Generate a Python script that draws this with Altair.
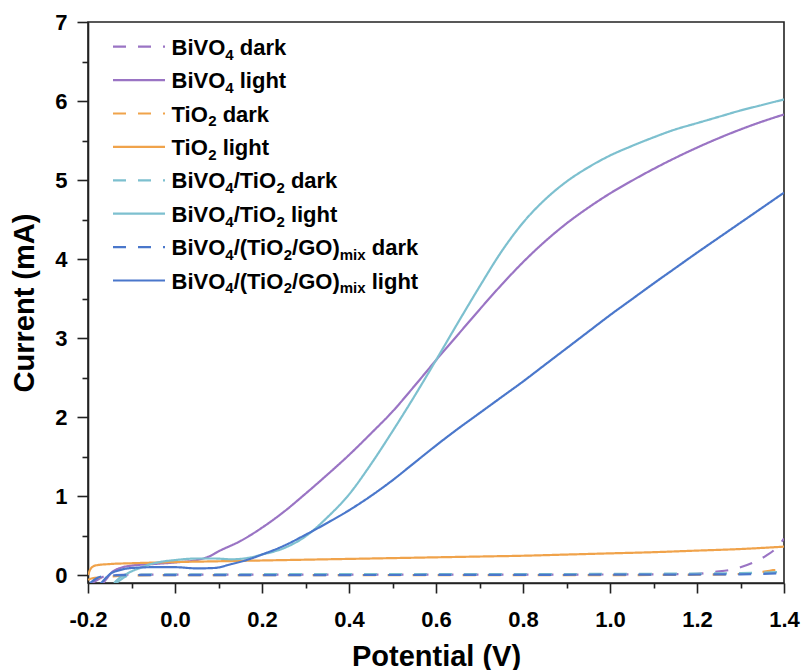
import altair as alt
import pandas as pd

# ---------------- data ----------------
series_keys = ["s0", "s1", "s2", "s3", "s4", "s5", "s6", "s7"]
series_kind = ["dark", "light", "dark", "light", "dark", "light", "dark", "light"]
series_colors = ["#9a74c4", "#9a74c4", "#f0a34b", "#f0a34b",
                 "#7dc0cf", "#7dc0cf", "#4a77cb", "#4a77cb"]

# BiVO4 dark
bivo4_dark_x = [-0.19, -0.175, -0.16, -0.14, -0.1, 0.0, 0.5, 1.0, 1.2, 1.24, 1.28, 1.3, 1.33, 1.36, 1.38, 1.4]
bivo4_dark_y = [-0.1, -0.05, -0.01, 0.0, 0.005, 0.005, 0.005, 0.008, 0.015, 0.04, 0.07, 0.1, 0.16, 0.25, 0.33, 0.46]
# BiVO4 light
bivo4_light_x = [-0.165, -0.155, -0.148, -0.135, -0.12, -0.1, -0.05, 0.0, 0.05, 0.08, 0.1, 0.15, 0.2, 0.25,
                 0.3, 0.35, 0.4, 0.45, 0.5, 0.55, 0.6, 0.65, 0.7, 0.75, 0.8, 0.85, 0.9, 0.95, 1.0, 1.05,
                 1.1, 1.15, 1.2, 1.25, 1.3, 1.35, 1.4]
bivo4_light_y = [-0.1, -0.03, 0.02, 0.07, 0.1, 0.12, 0.14, 0.16, 0.19, 0.24, 0.3, 0.43, 0.6, 0.8,
                 1.03, 1.27, 1.52, 1.79, 2.07, 2.39, 2.72, 3.04, 3.36, 3.67, 3.96, 4.22, 4.45, 4.65, 4.83, 4.99,
                 5.14, 5.28, 5.41, 5.53, 5.64, 5.74, 5.83]
# TiO2 dark
tio2_dark_x = [-0.2, -0.19, -0.17, -0.15, -0.1, 0.0, 0.5, 1.0, 1.2, 1.3, 1.35, 1.38, 1.4]
tio2_dark_y = [-0.06, -0.04, -0.03, -0.02, -0.005, 0.0, 0.0, 0.0, 0.005, 0.015, 0.04, 0.07, 0.1]
# TiO2 light
tio2_light_x = [-0.2, -0.195, -0.188, -0.18, -0.15, -0.1, 0.0, 0.1, 0.2, 0.3, 0.4, 0.5, 0.6, 0.7,
                0.8, 0.9, 1.0, 1.1, 1.2, 1.3, 1.4]
tio2_light_y = [0.0, 0.07, 0.11, 0.125, 0.14, 0.15, 0.165, 0.175, 0.185, 0.195, 0.205, 0.215, 0.225, 0.235,
                0.245, 0.26, 0.275, 0.29, 0.31, 0.33, 0.36]
# BiVO4/TiO2 dark
bt_dark_x = [-0.135, -0.12, -0.11, -0.09, 0.0, 0.5, 1.0, 1.2, 1.3, 1.4]
bt_dark_y = [-0.1, -0.04, -0.01, 0.005, 0.01, 0.012, 0.015, 0.02, 0.025, 0.04]
# BiVO4/TiO2 light
bt_light_x = [-0.14, -0.126, -0.11, -0.099, -0.08, -0.061, -0.03, 0.0, 0.05, 0.09, 0.13, 0.17, 0.2,
              0.25, 0.3, 0.35, 0.4, 0.45, 0.5, 0.55, 0.6, 0.65, 0.7, 0.75, 0.8, 0.85, 0.9, 0.95,
              1.0, 1.05, 1.1, 1.15, 1.2, 1.25, 1.3, 1.35, 1.4]
bt_light_y = [-0.1, -0.03, 0.02, 0.05, 0.09, 0.13, 0.17, 0.19, 0.21, 0.21, 0.2, 0.22, 0.26,
              0.34, 0.49, 0.73, 1.02, 1.4, 1.82, 2.26, 2.72, 3.19, 3.65, 4.09, 4.46, 4.75, 4.98, 5.16,
              5.31, 5.43, 5.54, 5.64, 5.72, 5.8, 5.88, 5.95, 6.02]
# BiVO4/(TiO2/GO)mix dark
btg_dark_x = [-0.195, -0.18, -0.16, -0.12, 0.0, 1.0, 1.3, 1.4]
btg_dark_y = [-0.1, -0.04, -0.01, 0.0, 0.0, 0.005, 0.01, 0.025]
# BiVO4/(TiO2/GO)mix light
btg_light_x = [-0.171, -0.156, -0.145, -0.135, -0.1, -0.05, 0.0, 0.05, 0.09, 0.13, 0.17, 0.2, 0.25,
               0.3, 0.35, 0.4, 0.45, 0.5, 0.55, 0.6, 0.65, 0.7, 0.75, 0.8, 0.85, 0.9, 0.95, 1.0,
               1.05, 1.1, 1.15, 1.2, 1.25, 1.3, 1.35, 1.4]
btg_light_y = [-0.11, -0.02, 0.03, 0.05, 0.09, 0.1, 0.1, 0.085, 0.09, 0.14, 0.2, 0.26, 0.37,
               0.51, 0.66, 0.82, 1.0, 1.2, 1.42, 1.64, 1.85, 2.05, 2.25, 2.45, 2.66, 2.87, 3.08, 3.29,
               3.49, 3.69, 3.885, 4.08, 4.27, 4.46, 4.65, 4.84]

series_x = [bivo4_dark_x, bivo4_light_x, tio2_dark_x, tio2_light_x,
            bt_dark_x, bt_light_x, btg_dark_x, btg_light_x]
series_y = [bivo4_dark_y, bivo4_light_y, tio2_dark_y, tio2_light_y,
            bt_dark_y, bt_light_y, btg_dark_y, btg_light_y]

# legend labels as (text, is_subscript) pieces
legend_pieces = [
    [("BiVO", 0), ("4", 1), (" dark", 0)],
    [("BiVO", 0), ("4", 1), (" light", 0)],
    [("TiO", 0), ("2", 1), (" dark", 0)],
    [("TiO", 0), ("2", 1), (" light", 0)],
    [("BiVO", 0), ("4", 1), ("/TiO", 0), ("2", 1), (" dark", 0)],
    [("BiVO", 0), ("4", 1), ("/TiO", 0), ("2", 1), (" light", 0)],
    [("BiVO", 0), ("4", 1), ("/(TiO", 0), ("2", 1), ("/GO)", 0), ("mix", 1), (" dark", 0)],
    [("BiVO", 0), ("4", 1), ("/(TiO", 0), ("2", 1), ("/GO)", 0), ("mix", 1), (" light", 0)],
]

x_ticks = [-0.2, -0.1, 0.0, 0.1, 0.2, 0.3, 0.4, 0.5, 0.6, 0.7, 0.8, 0.9, 1.0, 1.1, 1.2, 1.3, 1.4]
y_ticks = [0, 0.5, 1, 1.5, 2, 2.5, 3, 3.5, 4, 4.5, 5, 5.5, 6, 6.5, 7]

# ---------------- styles ----------------
FONT = "Liberation Sans"
LEG_FS = 22
SUB_FS = 15
LEG_ROW0 = 24.7
LEG_STEP = 33.4
LEG_SYM_X0, LEG_SYM_X1 = 25, 77
LEG_TXT_X = 83.5
DASH = [13, 12]

# Arial/Liberation Sans Bold advance widths (per 1000 em)
ADV = {' ': 278, '(': 333, ')': 333, '/': 278, '2': 556, '4': 556, 'B': 722, 'G': 778,
       'O': 778, 'T': 611, 'V': 667, 'a': 556, 'd': 611, 'g': 611, 'h': 611, 'i': 278,
       'k': 556, 'l': 278, 'm': 889, 'r': 389, 't': 333, 'x': 556}

# ---------------- tables ----------------
rows = []
for k, kind, xs, ys in zip(series_keys, series_kind, series_x, series_y):
    for i, (xv, yv) in enumerate(zip(xs, ys)):
        rows.append({"key": k, "kind": kind, "i": i, "x": xv, "y": yv})
df = pd.DataFrame(rows)

leg_rows = []
txt_rows = []
for idx, (k, kind, pieces) in enumerate(zip(series_keys, series_kind, legend_pieces)):
    ry = LEG_ROW0 + LEG_STEP * idx
    leg_rows.append({"key": k, "kind": kind, "ry": ry})
    cx = LEG_TXT_X
    for text, sub in pieces:
        fs = SUB_FS if sub else LEG_FS
        lead = len(text) - len(text.lstrip(" "))
        cx += lead * ADV[' '] / 1000.0 * fs
        body = text.lstrip(" ")
        ty = ry + 8 + (4.8 if sub else 0)
        txt_rows.append({"t": body, "tx": cx, "ty": ty, "fs": fs})
        cx += sum(ADV[c] for c in body) / 1000.0 * fs
leg_df = pd.DataFrame(leg_rows)
txt_df = pd.DataFrame(txt_rows)

color_scale = alt.Scale(domain=series_keys, range=series_colors)
dash_scale = alt.Scale(domain=["dark", "light"], range=[DASH, [1, 0]])

x_axis = alt.Axis(
    values=x_ticks,
    tickSize={"condition": {"test": "abs(round(datum.value*10)) % 2 == 0", "value": 10}, "value": 5},
    labelExpr="abs(round(datum.value*10)) % 2 == 0 ? (datum.value < 0 ? '-' : '') + format(abs(datum.value), '.1f') : ''",
    labelFont=FONT, labelFontSize=22, labelFontWeight="bold", labelColor="#000",
    labelPadding=16, labelFlush=False, labelOverlap=False,
    title="Potential (V)", titleFont=FONT, titleFontSize=29, titleFontWeight="bold",
    titleColor="#000", titleBaseline="alphabetic", titleY=82,
    domainColor="#222", domainWidth=1.6, tickColor="#222", tickWidth=1.6, grid=False,
)
y_axis = alt.Axis(
    values=y_ticks,
    tickSize={"condition": {"test": "datum.value % 1 == 0", "value": 11}, "value": 6},
    labelExpr="datum.value % 1 == 0 ? format(datum.value, 'd') : ''",
    labelFont=FONT, labelFontSize=22, labelFontWeight="bold", labelColor="#000",
    labelPadding=10, labelFlush=False, labelOverlap=False,
    title="Current (mA)", titleFont=FONT, titleFontSize=29, titleFontWeight="bold",
    titleColor="#000", titleBaseline="alphabetic", titleX=-55, titleY=280.5, titleAlign="center",
    domainColor="#222", domainWidth=1.6, tickColor="#222", tickWidth=1.6, grid=False,
)

lines = alt.Chart(df).mark_line(strokeWidth=2.2, interpolate="monotone", clip=True).encode(
    x=alt.X("x:Q", scale=alt.Scale(domain=[-0.2, 1.4], nice=False, zero=False), axis=x_axis),
    y=alt.Y("y:Q", scale=alt.Scale(domain=[-0.1, 7], nice=False, zero=False), axis=y_axis),
    color=alt.Color("key:N", scale=color_scale, legend=None),
    strokeDash=alt.StrokeDash("kind:N", scale=dash_scale, legend=None),
    detail="key:N",
    order="i:Q",
)

leg_lines = alt.Chart(leg_df).mark_rule(strokeWidth=2.2).encode(
    x=alt.value(LEG_SYM_X0),
    x2=alt.value(LEG_SYM_X1),
    y=alt.Y("ry:Q", scale=None),
    color=alt.Color("key:N", scale=color_scale, legend=None),
    strokeDash=alt.StrokeDash("kind:N", scale=dash_scale, legend=None),
)

leg_text = alt.Chart(txt_df).mark_text(
    align="left", baseline="alphabetic", font=FONT, fontWeight="bold", color="#000"
).encode(
    x=alt.X("tx:Q", scale=None),
    y=alt.Y("ty:Q", scale=None),
    size=alt.Size("fs:Q", scale=None),
    text="t:N",
)

chart = alt.layer(lines, leg_lines, leg_text).properties(
    width=696, height=561,
    padding={"left": 88, "top": 22, "right": 17, "bottom": 87},
    autosize=alt.AutoSizeParams(type="none"),
    background="white",
).configure_view(stroke="#222", strokeWidth=1.6)

chart.save("out.html", embed_options={"renderer": "svg", "actions": False})
